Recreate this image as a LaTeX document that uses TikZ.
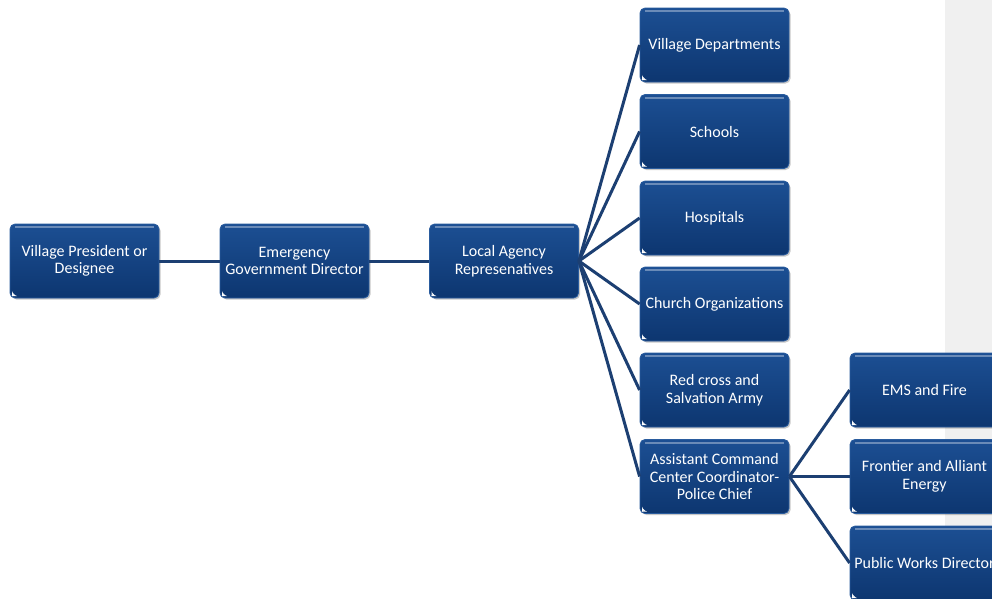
\documentclass[tikz,border=0pt]{standalone}
\usepackage{fontspec}
\setmainfont{Carlito}
\usetikzlibrary{shadows}
\definecolor{boxtop}{HTML}{1C4F93}
\definecolor{boxbot}{HTML}{0D3670}
\definecolor{boxedge}{HTML}{2A5C9E}
\definecolor{connblue}{HTML}{1C3F72}
\definecolor{bandgray}{HTML}{F0F0F0}
\begin{document}
\begin{tikzpicture}[x=1pt,y=1pt,
  box/.style={rounded corners=5pt, minimum width=149pt, minimum height=74pt,
    align=center, inner sep=0pt,
    top color=boxtop, bottom color=boxbot, draw=boxedge, line width=0.8pt,
    text=white, font=\fontsize{16}{17.5}\selectfont,
    drop shadow={shadow xshift=1.5pt, shadow yshift=-1.5pt, fill=black, opacity=0.22},
    path picture={
      \fill[white] ([shift={(2pt,2pt)}]path picture bounding box.south west) -- ++(4pt,0) -- ++(-4pt,4pt) -- cycle;
      \draw[white, opacity=0.35, line width=2pt] ([shift={(5pt,-3pt)}]path picture bounding box.north west) -- ([shift={(-5pt,-3pt)}]path picture bounding box.north east);}},
  conn/.style={draw=connblue, line width=3pt}]
\useasboundingbox (0,0) rectangle (992,-598);
\clip (0,0) rectangle (992,-598);
\fill[white] (0,0) rectangle (992,-598);
\fill[bandgray] (945,0) rectangle (992,-598);

\node[box] (pres) at (84.5,-261) {Village President or\\Designee};
\node[box] (egd) at (294.5,-261) {Emergency\\Government Director};
\node[box] (lar) at (504,-261) {Local Agency\\Represenatives};

\node[box] (vd) at (714.5,-45) {Village Departments};
\node[box] (sch) at (714.5,-131.5) {Schools};
\node[box] (hos) at (714.5,-218) {Hospitals};
\node[box] (chu) at (714.5,-304) {Church Organizations};
\node[box] (red) at (714.5,-390) {Red cross and\\Salvation Army};
\node[box] (acc) at (714.5,-476.5) {Assistant Command\\Center Coordinator-\\Police Chief};

\node[box] (ems) at (924.5,-390) {EMS and Fire};
\node[box] (fro) at (924.5,-476.5) {Frontier and Alliant\\Energy};
\node[box] (pwd) at (924.5,-563) {Public Works Director};

\draw[conn] (pres.east) -- (egd.west);
\draw[conn] (egd.east) -- (lar.west);
\foreach \t in {vd,sch,hos,chu,red,acc}
  \draw[conn] (lar.east) -- (\t.west);
\foreach \t in {ems,fro,pwd}
  \draw[conn] (acc.east) -- (\t.west);
\end{tikzpicture}
\end{document}
